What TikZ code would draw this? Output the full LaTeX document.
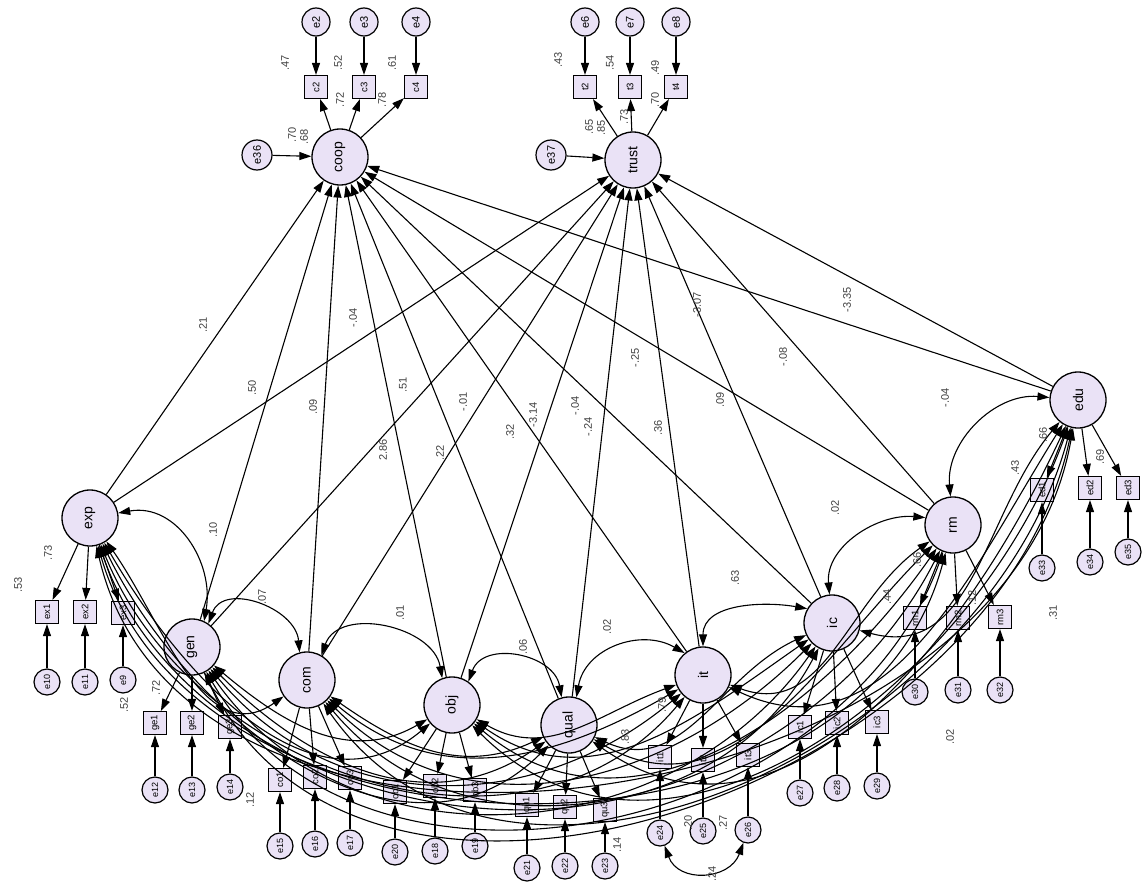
\documentclass[tikz,border=0pt]{standalone}
\usepackage{graphicx}
\usepackage{fontspec}
\setmainfont{Liberation Sans}
\usetikzlibrary{arrows.meta}
\definecolor{lav}{RGB}{234,226,246}
\newcommand{\rtx}[1]{\rotatebox{90}{#1}}
\begin{document}
\begin{tikzpicture}[x=1pt,y=1pt,
  lat/.style={circle,draw,line width=1.3pt,fill=lav,minimum size=56pt,inner sep=0pt,font=\fontsize{14}{14}\selectfont},
  err/.style={circle,draw,line width=1.2pt,fill=lav,minimum size=26pt,inner sep=0pt,font=\fontsize{9}{9}\selectfont},
  obs/.style={rectangle,draw,line width=1.2pt,fill=lav,minimum size=23pt,inner sep=0pt,font=\fontsize{9.5}{9.5}\selectfont},
  pth/.style={line width=1.1pt,-{Triangle[length=12pt,width=8pt]}},
  cov/.style={line width=1.1pt,{Triangle[length=12pt,width=8pt]}-{Triangle[length=12pt,width=8pt]}},
  lab/.style={font=\fontsize{11}{11}\selectfont,rotate=90,inner sep=0pt,text=black!75},
]
\useasboundingbox (0,0) rectangle (1142,-888);
% ---- latent variables
\node[lat] (coop)  at (340,-157) {\rtx{coop}};
\node[lat] (trust) at (633,-160) {\rtx{trust}};
\node[lat] (exp)   at (90,-518)  {\rtx{exp}};
\node[lat] (gen)   at (192,-647) {\rtx{gen}};
\node[lat] (com)   at (307,-680) {\rtx{com}};
\node[lat] (obj)   at (452,-705) {\rtx{obj}};
\node[lat] (qual)  at (569,-725) {\rtx{qual}};
\node[lat] (it)    at (703,-675) {\rtx{it}};
\node[lat] (ic)    at (832,-623) {\rtx{ic}};
\node[lat] (rm)    at (953,-525) {\rtx{rm}};
\node[lat] (edu)   at (1078,-400) {\rtx{edu}};
% ---- top indicators
\node[obs] (c2) at (316,-87) {\rtx{c2}};
\node[obs] (c3) at (364,-87) {\rtx{c3}};
\node[obs] (c4) at (416,-87) {\rtx{c4}};
\node[err,minimum size=28pt,font=\fontsize{11}{11}\selectfont] (e2) at (316,-22) {\rtx{e2}};
\node[err,minimum size=28pt,font=\fontsize{11}{11}\selectfont] (e3) at (364,-22) {\rtx{e3}};
\node[err,minimum size=28pt,font=\fontsize{11}{11}\selectfont] (e4) at (416,-22) {\rtx{e4}};
\node[obs] (t2) at (585,-87) {\rtx{t2}};
\node[obs] (t3) at (630,-87) {\rtx{t3}};
\node[obs] (t4) at (676,-87) {\rtx{t4}};
\node[err,minimum size=28pt,font=\fontsize{11}{11}\selectfont] (e6) at (585,-22) {\rtx{e6}};
\node[err,minimum size=28pt,font=\fontsize{11}{11}\selectfont] (e7) at (630,-22) {\rtx{e7}};
\node[err,minimum size=28pt,font=\fontsize{11}{11}\selectfont] (e8) at (676,-22) {\rtx{e8}};
\node[err,minimum size=30pt,font=\fontsize{11}{11}\selectfont] (e36) at (257,-155) {\rtx{e36}};
\node[err,minimum size=30pt,font=\fontsize{11}{11}\selectfont] (e37) at (551,-155) {\rtx{e37}};
% ---- bottom indicators and errors
\foreach \L/\a/\ax/\ay/\b/\bx/\by/\c/\cx/\cy/\ea/\eay/\eb/\eby/\ec/\ecy in {
  exp/ex1/47/612/ex2/85/612/ex3/123/613/e10/682/e11/682/e9/680,
  gen/ge1/155/723/ge2/192/723/ge3/230/727/e12/790/e13/790/e14/787,
  com/co1/280/780/co2/315/777/co3/350/778/e15/846/e16/844/e17/843,
  obj/ob1/395/792/ob2/435/786/ob3/475/790/e20/852/e18/851/e19/846,
  qual/qu1/527/805/qu2/565/807/qu3/605/810/e21/868/e22/866/e23/866,
  it/it1/660/757/it2/703/760/it3/748/755/e24/833/e25/831/e26/830,
  ic/ic1/800/727/ic2/837/723/ic3/877/722/e27/793/e28/788/e29/786,
  rm/rm1/915/618/rm2/958/618/rm3/1000/617/e30/692/e31/690/e32/690,
  edu/ed1/1042/490/ed2/1090/488/ed3/1128/488/e33/568/e34/562/e35/552}
{
  \node[obs] (\a) at (\ax,-\ay) {\rtx{\a}};
  \node[obs] (\b) at (\bx,-\by) {\rtx{\b}};
  \node[obs] (\c) at (\cx,-\cy) {\rtx{\c}};
  \node[err] (\ea) at (\ax,-\eay) {\rtx{\ea}};
  \node[err] (\eb) at (\bx,-\eby) {\rtx{\eb}};
  \node[err] (\ec) at (\cx,-\ecy) {\rtx{\ec}};
  \draw[pth] (\L) -- (\a);
  \draw[pth] (\L) -- (\b);
  \draw[pth] (\L) -- (\c);
  \draw[pth] (\ea) -- (\a);
  \draw[pth] (\eb) -- (\b);
  \draw[pth] (\ec) -- (\c);
}
% ---- top measurement paths
\foreach \x in {c2,c3,c4} \draw[pth] (coop) -- (\x);
\foreach \x in {t2,t3,t4} \draw[pth] (trust) -- (\x);
\draw[pth] (e2) -- (c2); \draw[pth] (e3) -- (c3); \draw[pth] (e4) -- (c4);
\draw[pth] (e6) -- (t2); \draw[pth] (e7) -- (t3); \draw[pth] (e8) -- (t4);
\draw[pth] (e36) -- (coop);
\draw[pth] (e37) -- (trust);
% ---- structural paths
\foreach \L in {exp,gen,com,obj,qual,it,ic,rm,edu} {
  \draw[pth] (\L) -- (coop);
  \draw[pth] (\L) -- (trust);
}
% ---- covariances between neighbours
\draw[cov] (exp.10) to[out=10,in=80,looseness=1.1] (gen.65);
\draw[cov] (gen.55) to[out=70,in=95,looseness=1.2] (com.105);
\draw[cov] (com.60) to[out=70,in=100,looseness=1.1] (obj.110);
\draw[cov] (obj.55) to[out=70,in=100,looseness=1.2] (qual.105);
\draw[cov] (qual.75) to[out=80,in=150,looseness=1.1] (it.130);
\draw[cov] (it.90) to[out=90,in=170,looseness=1.0] (ic.150);
\draw[cov] (ic.95) to[out=95,in=175,looseness=1.0] (rm.165);
\draw[cov] (rm.95) to[out=95,in=175,looseness=1.0] (edu.175);
% ---- long covariances (bottom bundle)
\foreach \a/\oa/\b/\nb in {
  exp/-55/com/-145, exp/-60/obj/-140, exp/-64/qual/-135, exp/-68/it/-130,
  exp/-71/ic/-118, exp/-74/rm/-105, exp/-77/edu/-100,
  gen/-40/obj/-150, gen/-45/qual/-145, gen/-50/it/-140, gen/-55/ic/-125,
  gen/-60/rm/-110, gen/-64/edu/-102,
  com/-35/qual/-155, com/-40/it/-150, com/-45/ic/-135, com/-50/rm/-117, com/-55/edu/-105,
  obj/-30/it/-160, obj/-35/ic/-145, obj/-40/rm/-125, obj/-45/edu/-110,
  qual/-25/ic/-155, qual/-30/rm/-135, qual/-35/edu/-115,
  it/-20/rm/-145, it/-25/edu/-122,
  ic/-15/edu/-130}
  \draw[cov] (\a.\oa) to[out=\oa,in=\nb,looseness=1.05] (\b.\nb);
% ---- error covariance
\draw[cov] (e24.-70) to[out=-70,in=-110,looseness=1.3] (e26.-110);
% ---- labels: structural
\foreach \t/\x/\y in {.21/203/325, .50/252/388, .09/313/407, -.04/353/318, .51/403/385,
  2.86/383/450, -.01/463/402, .22/440/453, .32/510/432, -3.14/533/415, -.04/575/406,
  -.24/588/427, -.25/635/358, .36/658/428, -3.07/697/305, .09/720/400, -.08/783/357,
  -3.35/847/300}
  \node[lab] at (\x,-\y) {\t};
% ---- labels: covariances
\foreach \t/\x/\y in {.10/213/530, .07/262/597, .01/400/613, .06/523/647, .02/607/627,
  .63/735/578, .02/835/508, -.04/945/398}
  \node[lab] at (\x,-\y) {\t};
% ---- labels: loadings and squared multiple correlations
\foreach \t/\x/\y in {.47/285/63, .52/338/63, .61/392/63, .72/340/100, .78/382/100,
  .70/292/135, .68/304/137, .43/558/60, .54/610/63, .49/655/68, .70/655/100,
  .73/624/117, .65/589/127, .85/601/128,
  .73/48/553, .53/18/585, .52/124/705, .72/156/688, .12/250/800,
  .79/662/705, .83/625/737, .20/688/823, .27/723/823, .24/712/874, .14/617/845,
  .66/1043/435, .43/1015/468, .69/1100/457, .44/887/597, .66/917/560, .12/972/598,
  .31/1053/613, .02/950/737}
  \node[lab] at (\x,-\y) {\t};
\end{tikzpicture}
\end{document}
